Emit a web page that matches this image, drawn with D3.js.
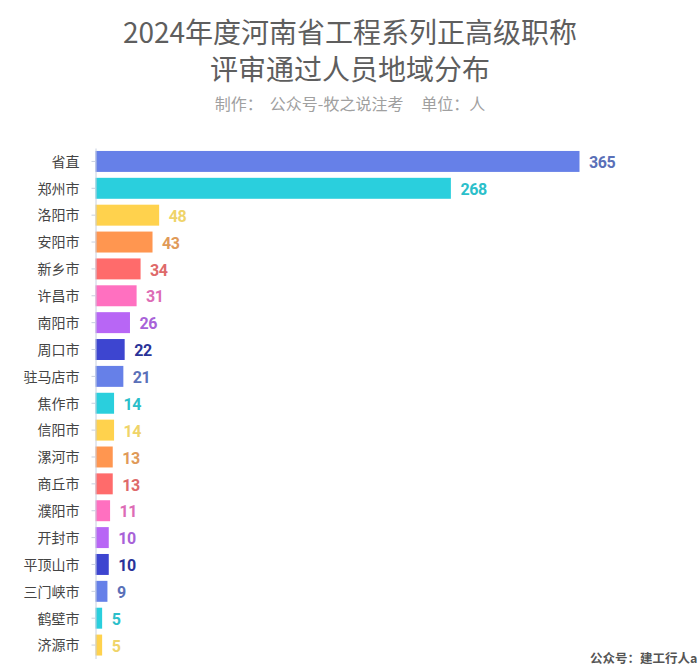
<!DOCTYPE html>
<html>
<head>
<meta charset="utf-8">
<script src="https://cdn.jsdelivr.net/npm/d3@7"></script>
<style>
    html, body { margin: 0; padding: 0; background: #fff; overflow: hidden; }
    text { font-family: "Noto Sans CJK SC", sans-serif; }
</style>
</head>
<body>
<div id="chart"></div>
<script>
const cities = ["省直", "郑州市", "洛阳市", "安阳市", "新乡市", "许昌市", "南阳市", "周口市", "驻马店市", "焦作市",
    "信阳市", "漯河市", "商丘市", "濮阳市", "开封市", "平顶山市", "三门峡市", "鹤壁市", "济源市"];
const people = [365, 268, 48, 43, 34, 31, 26, 22, 21, 14, 14, 13, 13, 11, 10, 10, 9, 5, 5];
const barColors = ["#6680e8", "#2acfdd", "#ffd24d", "#ff9650", "#ff6b6b", "#ff70c0", "#b866f5", "#3d45d0"];
const valueColors = ["#5a70b8", "#2bbfca", "#efd469", "#e09a58", "#de6a6a", "#dd6cb5", "#a862d8", "#2a3399"];
const titleLines = ["2024年度河南省工程系列正高级职称", "评审通过人员地域分布"];
const subtitle = "制作：  公众号-牧之说注考     单位：人";
const footer = "公众号：建工行人a";

let width = 700;
let height = 667;
let margin = { top: 148, right: 120.5, bottom: 8.5, left: 95.5 };

let svg = d3.select("#chart")
    .append("svg")
    .attr("width", width)
    .attr("height", height)
    .style("display", "block");

//title
svg.selectAll(".title")
    .data(titleLines)
    .enter()
    .append("text")
    .attr("class", "title")
    .attr("x", width / 2)
    .attr("y", (d, i) => 43 + i * 37)
    .attr("text-anchor", "middle")
    .style("font-size", "28px")
    .style("fill", "#5e5e5e")
    .text((d) => d);

svg.append("text")
    .attr("x", width / 2)
    .attr("y", 110)
    .attr("text-anchor", "middle")
    .attr("xml:space", "preserve")
    .style("white-space", "pre")
    .style("font-size", "16px")
    .style("fill", "#a0a0a0")
    .text(subtitle);

let x = d3.scaleLinear()
    .domain([0, d3.max(people)])
    .range([margin.left, width - margin.right]);

let y = d3.scaleBand()
    .domain(cities)
    .range([margin.top, height - margin.bottom])
    .paddingInner(0.22)
    .paddingOuter(0.11);

let rows = cities.map((city, i) => ({ city: city, value: people[i], i: i }));

//bars
svg.selectAll(".bar")
    .data(rows)
    .enter()
    .append("rect")
    .attr("class", "bar")
    .attr("x", x(0))
    .attr("y", (d) => y(d.city))
    .attr("width", (d) => x(d.value) - x(0))
    .attr("height", y.bandwidth())
    .style("fill", (d) => barColors[d.i % barColors.length]);

//left axis
let axis = svg.append("g")
    .attr("transform", `translate(${margin.left}, 0)`)
    .call(d3.axisLeft(y).tickSize(4).tickSizeOuter(0).tickPadding(12));
axis.select(".domain").style("stroke", "#c8d0e0");
axis.selectAll(".tick line").style("stroke", "#c8d0e0");
axis.selectAll(".tick text")
    .attr("dy", "0.38em")
    .style("font-family", '"Noto Sans CJK SC", sans-serif')
    .style("font-size", "14px")
    .style("fill", "#444");

//value labels
svg.selectAll(".value")
    .data(rows)
    .enter()
    .append("text")
    .attr("class", "value")
    .attr("x", (d) => x(d.value) + 9.5)
    .attr("y", (d) => y(d.city) + y.bandwidth() / 2 + 2.5)
    .attr("dominant-baseline", "middle")
    .style("font-family", "Roboto, sans-serif")
    .style("font-weight", "700")
    .style("font-size", "16px")
    .style("letter-spacing", "-0.4px")
    .style("fill", (d) => valueColors[d.i % valueColors.length])
    .text((d) => d.value);

svg.append("text")
    .attr("x", 590)
    .attr("y", 663)
    .style("font-size", "12.5px")
    .style("font-weight", "700")
    .style("fill", "#555")
    .text(footer);
</script>
</body>
</html>
